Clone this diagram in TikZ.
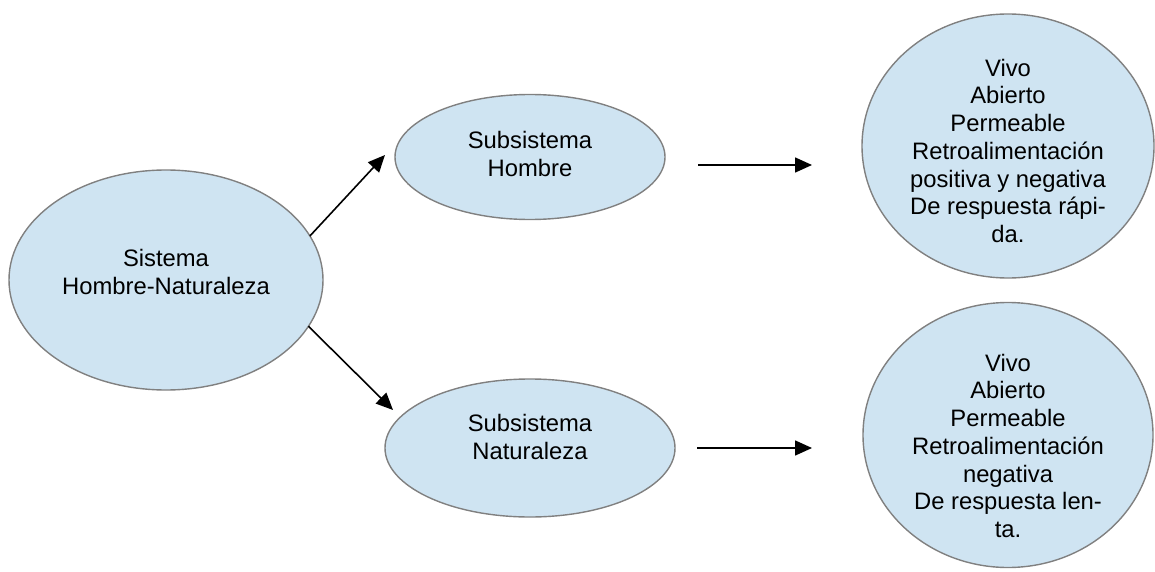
\documentclass[tikz,border=0pt]{standalone}
\usepackage{fontspec}
\setmainfont{Liberation Sans}
\usetikzlibrary{shapes.geometric,arrows.meta,calc}
\definecolor{bubblefill}{RGB}{207,228,242}
\definecolor{bubbleline}{RGB}{128,128,128}
% centred block of lines, shifted vertically, that does not enlarge the shape
\newcommand{\celltext}[2][0pt]{\smash{\raisebox{#1}{\smash{\begin{tabular}{@{}c@{}}#2\end{tabular}}}}}
\begin{document}
\begin{tikzpicture}[x=1pt,y=-1pt,
  bubble/.style={ellipse,draw=bubbleline,line width=1.4pt,fill=bubblefill,
    inner sep=0pt,outer sep=0pt,
    font=\fontsize{23.8}{27.7}\selectfont},
  link/.style={line width=1.6pt,-{Triangle[length=17pt,width=15pt]}}]
\useasboundingbox (0,0) rectangle (1155,572);
\node[bubble,minimum width=314,minimum height=220] (hn) at (166,280)
  {\celltext[-1.5pt]{Sistema\\Hombre-Naturaleza}};
\node[bubble,minimum width=270,minimum height=125] (sh) at (530,157)
  {\celltext[-6.5pt]{Subsistema\\Hombre}};
\node[bubble,minimum width=290,minimum height=138] (sn) at (530,448)
  {\celltext[1.5pt]{Subsistema\\Naturaleza}};
\node[bubble,minimum width=292,minimum height=264] (rh) at (1008,146)
  {\celltext[-14pt]{Vivo\\Abierto\\Permeable\\Retroalimentación\\positiva y negativa\\De respuesta rápi-\\da.}};
\node[bubble,minimum width=290,minimum height=265] (rn) at (1008,435)
  {\celltext[-20pt]{Vivo\\Abierto\\Permeable\\Retroalimentación\\negativa\\De respuesta len-\\ta.}};
\draw[link] (hn.17) -- ($(sh.west)+(-10,-2)$);
\draw[link] (hn.-18) -- ($(sn.west)+(8,-38)$);
\draw[link] ($(sh.east)+(33,8)$) -- ($(rh.west)+(-50,19)$);
\draw[link] ($(sn.east)+(22,0)$) -- ($(rn.west)+(-51,13)$);
\end{tikzpicture}
\end{document}
